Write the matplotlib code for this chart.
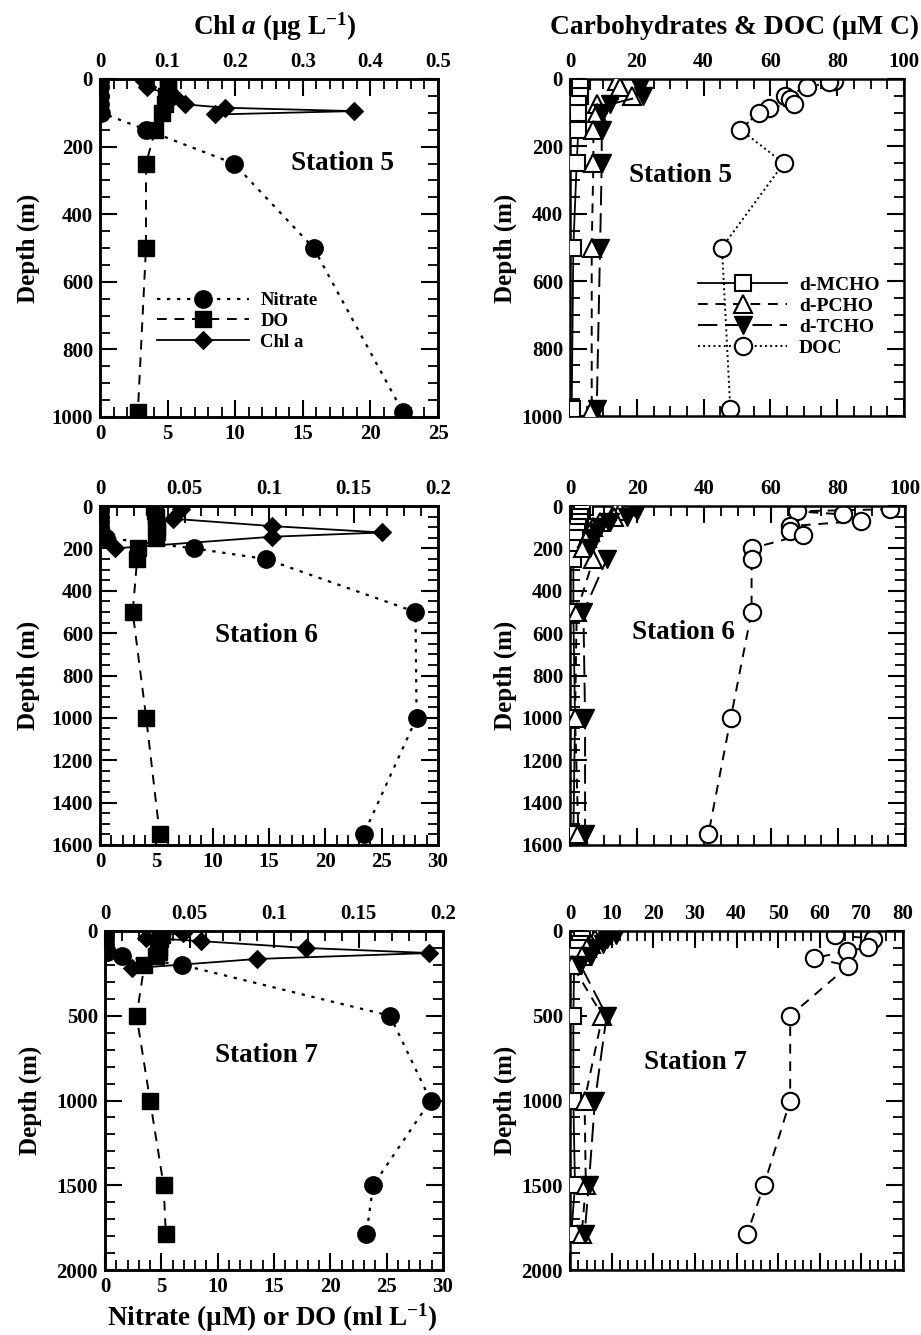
import matplotlib
matplotlib.use('Agg')
import matplotlib.pyplot as plt
from matplotlib.ticker import MultipleLocator

plt.rcParams['font.family'] = ['Liberation Serif', 'DejaVu Serif']
plt.rcParams['font.weight'] = 'bold'
plt.rcParams['mathtext.fontset'] = 'custom'
plt.rcParams['mathtext.rm'] = 'Liberation Serif:bold'
plt.rcParams['mathtext.it'] = 'Liberation Serif:bold:italic'
plt.rcParams['mathtext.bf'] = 'Liberation Serif:bold'

# ---------------- data ----------------
# Station 5
s5_nut_depth = [5, 25, 50, 75, 100, 150, 250, 500, 985]
s5_nitrate = [0, 0, 0, 0, 0.1, 3.4, 9.9, 15.8, 22.4]
s5_do = [5.0, 5.0, 4.9, 4.8, 4.6, 4.1, 3.4, 3.4, 2.8]
s5_chl_depth = [5, 25, 50, 75, 85, 95, 105]
s5_chl = [0.065, 0.07, 0.11, 0.125, 0.185, 0.375, 0.17]
s5_cho_depth = [5, 25, 50, 75, 100, 150, 250, 500, 980]
s5_mcho = [3.5, 3.0, 3.0, 2.5, 2.5, 2.5, 2.0, 1.0, 0.5]
s5_pcho = [14, 15, 18.5, 8, 8, 7, 7, 6.5, 6.5]
s5_tcho = [20, 21, 22, 12, 9.5, 9.5, 9.5, 9, 8]
s5_doc_depth = [5, 10, 25, 50, 60, 75, 85, 100, 150, 250, 500, 980]
s5_doc = [79, 77.5, 71, 64.5, 66, 67, 59.5, 56.5, 51, 64, 45.5, 48]

# Station 6
s6_nut_depth = [5, 25, 50, 75, 100, 125, 150, 200, 250, 500, 1000, 1550]
s6_nitrate = [0, 0, 0, 0, 0, 0.1, 0.5, 8.3, 14.7, 28.0, 28.1, 23.4]
s6_do = [4.8, 4.9, 5.0, 5.0, 5.1, 5.1, 5.0, 3.4, 3.3, 2.9, 4.1, 5.3]
s6_chl_depth = [15, 60, 95, 125, 145, 200]
s6_chl = [0.048, 0.043, 0.102, 0.167, 0.102, 0.009]
s6_cho_depth = [5, 25, 50, 75, 100, 125, 150, 200, 250, 500, 1000, 1550]
s6_mcho = [4.5, 3.5, 3.0, 3.0, 2.5, 2.0, 1.5, 0.5, 1.0, 1.0, 1.5, 1.0]
s6_pcho = [14, 15, 13, 9, 7, 6, 5, 4, 7, 2, 1.5, 2.5]
s6_tcho = [19, 20, 17, 12, 9, 8, 7, 6, 11, 4, 4.5, 4.5]
s6_doc_depth = [15, 25, 40, 70, 95, 120, 135, 200, 250, 500, 1000, 1550]
s6_doc = [95.5, 67.7, 81.6, 87, 65.7, 65.7, 69.6, 54.2, 54.2, 54.2, 48, 41.3]

# Station 7
s7_nut_depth = [5, 25, 50, 75, 100, 125, 150, 200, 500, 1000, 1500, 1790]
s7_nitrate = [0, 0, 0, 0, 0, 0.2, 1.5, 6.8, 25.3, 28.9, 23.8, 23.2]
s7_do = [5.0, 5.1, 4.9, 4.7, 4.8, 4.8, 4.5, 3.5, 2.8, 4.0, 5.2, 5.4]
s7_chl_depth = [10, 40, 60, 100, 130, 165, 220]
s7_chl = [0.046, 0.024, 0.057, 0.119, 0.192, 0.09, 0.016]
s7_cho_depth = [5, 25, 50, 75, 100, 150, 200, 500, 1000, 1500, 1790]
s7_mcho = [3, 3.5, 3, 2.5, 2, 1.5, 1, 0.8, 0.8, 1.2, 0.3]
s7_pcho = [7, 8, 6, 5, 4, 3, 0.5, 7.8, 3.5, 3.8, 2.8]
s7_tcho = [10, 11, 9, 8, 6, 5, 2.5, 8.8, 6, 4.5, 3.5]
s7_doc_depth = [25, 45, 95, 120, 160, 205, 500, 1000, 1500, 1790]
s7_doc = [63.7, 72.9, 71.7, 66.5, 58.5, 66.9, 52.9, 52.9, 46.6, 42.5]

# ---------------- figure ----------------
W, H = 921, 1335
fig = plt.figure(figsize=(W / 100, H / 100), dpi=100)


def rect(x0, y0, x1, y1):
    return [x0 / W, 1 - y1 / H, (x1 - x0) / W, (y1 - y0) / H]


TICK_FS = 15
SPINE_W = 1.8
NIT_LS = (0, (1.5, 3))
DO_LS = (0, (5, 4))
PCHO_LS = (0, (5, 4))
TCHO_LS = (0, (10, 4))


def style_axis(ax):
    for s in ax.spines.values():
        s.set_linewidth(SPINE_W)
    ax.tick_params(which='major', direction='in', length=12, width=1.5,
                   labelsize=TICK_FS, pad=5)
    ax.tick_params(which='minor', direction='in', length=7, width=1.3)
    for lab in ax.get_xticklabels() + ax.get_yticklabels():
        lab.set_fontweight('bold')


def fmt_num(v, pos=None):
    return '%g' % v


def left_panel(r, nd, nit, do, cd, chl, ymax, ymaj, ymin, xmax_b, xmax_t,
               tmaj, tmin, station, spos):
    ax = fig.add_axes(rect(*r))
    ax2 = ax.twiny()
    ax.plot(nit, nd, linestyle=NIT_LS, color='black', lw=1.6, marker='o',
            ms=12.5, mfc='black', mec='black', label='Nitrate', zorder=3)
    ax.plot(do, nd, linestyle=DO_LS, color='black', lw=1.4, marker='s',
            ms=12, mfc='black', mec='black', label='DO', zorder=3)
    ax2.plot(chl, cd, linestyle='-', color='black', lw=1.3, marker='D',
             ms=9.5, mfc='black', mec='black', mew=0.8, label='Chl a', zorder=3)
    ax.set_ylim(ymax, 0)
    ax.set_xlim(0, xmax_b)
    ax2.set_xlim(0, xmax_t)
    ax.yaxis.set_major_locator(MultipleLocator(ymaj))
    ax.yaxis.set_minor_locator(MultipleLocator(ymin))
    ax.xaxis.set_major_locator(MultipleLocator(5))
    ax.xaxis.set_minor_locator(MultipleLocator(1))
    ax2.xaxis.set_major_locator(MultipleLocator(tmaj))
    ax2.xaxis.set_minor_locator(MultipleLocator(tmin))
    ax2.xaxis.set_major_formatter(plt.FuncFormatter(fmt_num))
    ax.tick_params(axis='y', which='both', left=True, right=True)
    ax.tick_params(axis='x', which='both', top=False, bottom=True)
    style_axis(ax)
    style_axis(ax2)
    ax.text(spos[0], spos[1], station, transform=ax.transAxes, fontsize=19.5,
            fontweight='bold', ha='center', va='center')
    return ax, ax2


def right_panel(r, cd, mcho, pcho, tcho, dd, doc, ymax, ymaj, ymin, xmax,
                xmaj, xmin, station, spos, doc_ls):
    ax = fig.add_axes(rect(*r))
    ax.plot(doc, dd, linestyle=doc_ls, color='black', lw=1.4, marker='o',
            ms=12.5, mfc='white', mec='black', mew=1.5, label='DOC', zorder=2)
    ax.plot(mcho, cd, linestyle='-', color='black', lw=1.3, marker='s',
            ms=11.5, mfc='white', mec='black', mew=1.5, label='d-MCHO', zorder=3)
    ax.plot(pcho, cd, linestyle=PCHO_LS, color='black', lw=1.4, marker='^',
            ms=13, mfc='white', mec='black', mew=1.5, label='d-PCHO', zorder=3)
    ax.plot(tcho, cd, linestyle=TCHO_LS, color='black', lw=1.4, marker='v',
            ms=13, mfc='black', mec='black', mew=1.0, label='d-TCHO', zorder=3)
    ax.set_ylim(ymax, 0)
    ax.set_xlim(0, xmax)
    ax.yaxis.set_major_locator(MultipleLocator(ymaj))
    ax.yaxis.set_minor_locator(MultipleLocator(ymin))
    ax.xaxis.set_major_locator(MultipleLocator(xmaj))
    ax.xaxis.set_minor_locator(MultipleLocator(xmin))
    ax.tick_params(axis='y', which='both', left=True, right=True)
    ax.tick_params(axis='x', which='both', top=True, bottom=True,
                   labeltop=True, labelbottom=False)
    style_axis(ax)
    ax.text(spos[0], spos[1], station, transform=ax.transAxes, fontsize=19.5,
            fontweight='bold', ha='center', va='center')
    return ax


# Row 1 (Station 5)
axL5, axL5t = left_panel((100, 79, 438, 417), s5_nut_depth, s5_nitrate, s5_do,
                         s5_chl_depth, s5_chl, 1000, 200, 50, 25, 0.5, 0.1, 0.02,
                         'Station 5', (0.716, 0.751))
axR5 = right_panel((570, 79, 904, 416), s5_cho_depth, s5_mcho, s5_pcho, s5_tcho,
                   s5_doc_depth, s5_doc, 1000, 200, 50, 100, 20, 5,
                   'Station 5', (0.332, 0.715), ':')

# Row 2 (Station 6)
axL6, axL6t = left_panel((100, 506, 438, 845), s6_nut_depth, s6_nitrate, s6_do,
                         s6_chl_depth, s6_chl, 1600, 200, 50, 30, 0.2, 0.05, 0.01,
                         'Station 6', (0.491, 0.619))
axR6 = right_panel((570, 506, 905, 845), s6_cho_depth, s6_mcho, s6_pcho, s6_tcho,
                   s6_doc_depth, s6_doc, 1600, 200, 50, 100, 20, 5,
                   'Station 6', (0.340, 0.628), (0, (5, 4)))

# Row 3 (Station 7)
axL7, axL7t = left_panel((105, 931, 443, 1270), s7_nut_depth, s7_nitrate, s7_do,
                         s7_chl_depth, s7_chl, 2000, 500, 100, 30, 0.2, 0.05, 0.01,
                         'Station 7', (0.479, 0.634))
axR7 = right_panel((570, 931, 903, 1270), s7_cho_depth, s7_mcho, s7_pcho, s7_tcho,
                   s7_doc_depth, s7_doc, 2000, 500, 100, 80, 10, 2,
                   'Station 7', (0.378, 0.611), (0, (5, 4)))

# Legends
h1, l1 = axL5.get_legend_handles_labels()
h2, l2 = axL5t.get_legend_handles_labels()
axL5.legend(h1 + h2, l1 + l2, loc='upper left', bbox_to_anchor=(0.169, 0.370),
            frameon=False, borderpad=0, borderaxespad=0, handlelength=4.9,
            handletextpad=0.6, labelspacing=0.2, prop={'size': 13.5, 'weight': 'bold'})

hr, lr = axR5.get_legend_handles_labels()
order = [1, 2, 3, 0]
axR5.legend([hr[i] for i in order], [lr[i] for i in order], loc='upper left',
            bbox_to_anchor=(0.383, 0.415), frameon=False, borderpad=0,
            borderaxespad=0, handlelength=4.6, handletextpad=0.6,
            labelspacing=0.18, prop={'size': 14, 'weight': 'bold'})

# Axis titles
fig.text(275 / W, 1 - 27 / H, r'Chl $\mathit{a}$ (µg L$^{-1}$)', ha='center',
         va='center', fontsize=19.5, fontweight='bold')
fig.text(734 / W, 1 - 27 / H, 'Carbohydrates & DOC (µM C)', ha='center',
         va='center', fontsize=19.8, fontweight='bold')
fig.text(272 / W, 1 - 1318 / H, r'Nitrate (µM) or DO (ml L$^{-1}$)', ha='center',
         va='center', fontsize=19.5, fontweight='bold')

for (xc, yc) in [(28, 248), (505, 248), (28, 675), (505, 675), (30, 1100), (505, 1100)]:
    fig.text(xc / W, 1 - yc / H, 'Depth (m)', rotation=90, ha='center',
             va='center', fontsize=18, fontweight='bold')

fig.savefig('out.png', dpi=100)
